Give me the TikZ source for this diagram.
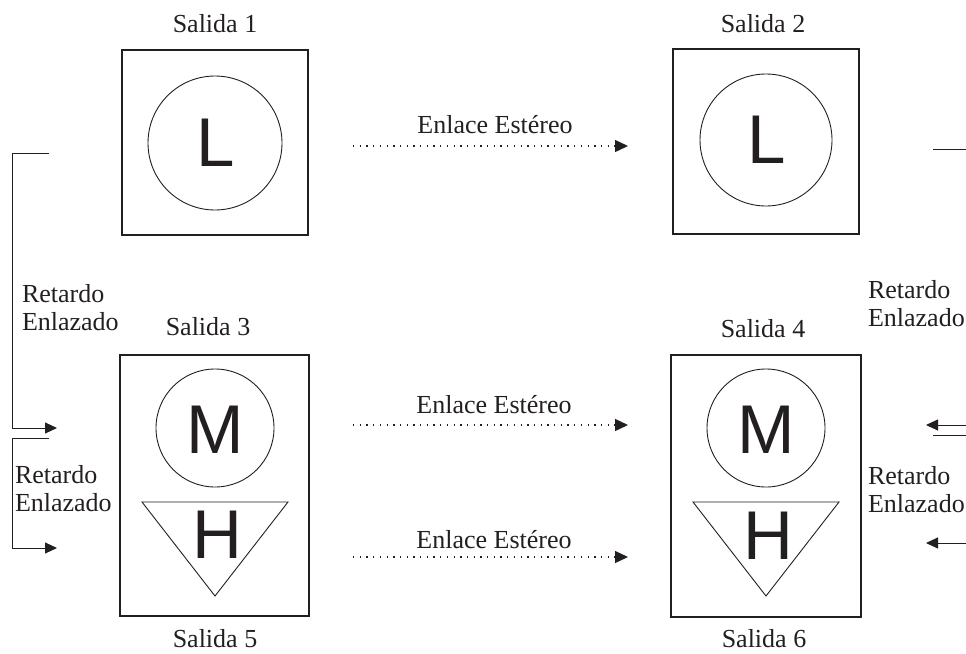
\documentclass[tikz,border=0pt]{standalone}
\usepackage{fontspec}
\setmainfont{Liberation Serif}
\newfontfamily\lsans{Liberation Sans}
\usetikzlibrary{arrows.meta}
\definecolor{ink}{HTML}{231F20}
\begin{document}
\begin{tikzpicture}[x=1pt,y=-1pt,
  every node/.style={inner sep=0pt,outer sep=0pt,text=ink},
  lbl/.style={font=\fontsize{26}{28}\selectfont,anchor=base},
  rlbl/.style={font=\fontsize{26}{28}\selectfont,align=left,anchor=base west},
  outbox/.style={draw=ink,line width=1.1pt},
  ring/.style={draw=ink,line width=0.9pt},
  big/.style={font=\lsans\fontsize{69}{70}\selectfont},
  dotline/.style={ink,line width=1.3pt,dash pattern=on 1.3pt off 5.4pt,-{Triangle[length=13pt,width=12pt]}},
  conn/.style={ink,line width=1pt},
  connarr/.style={ink,line width=1pt,-{Triangle[length=12pt,width=11pt]}}]
\useasboundingbox (0,0) rectangle (966,653);

% boxes
\draw[outbox] (122,50) rectangle (308,235);
\draw[outbox] (673,49) rectangle (859,234);
\draw[outbox] (120,355) rectangle (309,616);
\draw[outbox] (671,355) rectangle (861,617);

% circles and letters
\draw[ring] (215,143) circle (67);
\node[big] (L1) at (216,143) {L};
\draw[ring] (766,140) circle (66);
\node[big] (L2) at (767,140) {L};
\draw[ring] (215,428) circle (59);
\node[big] (M1) at (215,430) {M};
\draw[ring] (766,428) circle (59);
\node[big] (M2) at (766,430) {M};
\draw[ring] (142,502) -- (288,502) -- (215,596) -- cycle;
\node[big] (H1) at (217,535) {H};
\draw[ring] (693,502) -- (839,502) -- (766,596) -- cycle;
\node[big] (H2) at (768,536) {H};

% titles
\node[lbl] (s1) at (215,32) {Salida 1};
\node[lbl] (s2) at (763,32) {Salida 2};
\node[lbl] (s3) at (208,335) {Salida 3};
\node[lbl] (s4) at (763,337) {Salida 4};
\node[lbl] (s5) at (215,647) {Salida 5};
\node[lbl] (s6) at (764,647) {Salida 6};

% stereo links
\node[lbl] (e1) at (495,133) {Enlace Estéreo};
\node[lbl] (e2) at (494,413) {Enlace Estéreo};
\node[lbl] (e3) at (494,548) {Enlace Estéreo};
\coordinate (d1a) at (353,146); \coordinate (d1b) at (628,146);
\coordinate (d2a) at (353,425); \coordinate (d2b) at (628,425);
\coordinate (d3a) at (353,557); \coordinate (d3b) at (628,557);
\draw[dotline] (d1a) -- (d1b);
\draw[dotline] (d2a) -- (d2b);
\draw[dotline] (d3a) -- (d3b);

% left linked delay
\coordinate (la1) at (49,153); \coordinate (la2) at (12,153); \coordinate (la3) at (57,428);
\draw[connarr] (la1) -- (la2) |- (la3);
\coordinate (lb1) at (49,438); \coordinate (lb2) at (12,438); \coordinate (lb3) at (57,548);
\draw[connarr] (lb1) -- (lb2) |- (lb3);
\node[rlbl] (r1) at (22,330) {Retardo\\Enlazado};
\node[rlbl] (r2) at (15,511) {Retardo\\Enlazado};

% right linked delay
\coordinate (ra1) at (933,149); \coordinate (ra2) at (970,149);
\draw[conn] (ra1) -- (ra2);
\coordinate (rb1) at (970,425); \coordinate (rb2) at (926,425);
\draw[connarr] (rb1) -- (rb2);
\coordinate (rc1) at (933,435); \coordinate (rc2) at (970,435);
\draw[conn] (rc1) -- (rc2);
\coordinate (rd1) at (970,543); \coordinate (rd2) at (926,543);
\draw[connarr] (rd1) -- (rd2);
\node[rlbl] (r3) at (868,326) {Retardo\\Enlazado};
\node[rlbl] (r4) at (868,512) {Retardo\\Enlazado};
\end{tikzpicture}
\end{document}
